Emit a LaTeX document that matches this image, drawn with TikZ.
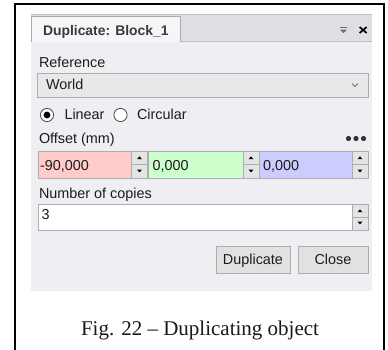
\documentclass[tikz,border=0pt]{standalone}
\usepackage{fontspec}
\setmainfont{Liberation Sans}
\newfontfamily\capfont[Ligatures=TeX]{Liberation Serif}
\definecolor{bodybg}{RGB}{238,238,243}
\definecolor{stripbg}{RGB}{221,223,229}
\definecolor{stripln}{RGB}{190,192,198}
\definecolor{tabbg}{RGB}{246,246,248}
\definecolor{tabln}{RGB}{170,170,172}
\definecolor{ctlln}{RGB}{173,173,173}
\definecolor{combobg}{RGB}{232,232,232}
\definecolor{spinbg}{RGB}{228,228,228}
\definecolor{btnbg}{RGB}{225,225,225}
\definecolor{txt}{RGB}{28,28,28}
\definecolor{titletxt}{RGB}{58,58,58}
\definecolor{iconc}{RGB}{110,110,110}
\definecolor{xred}{RGB}{255,204,204}
\definecolor{ygreen}{RGB}{204,255,204}
\definecolor{zblue}{RGB}{204,204,255}
\begin{document}
\begin{tikzpicture}[x=1pt,y=-1pt,
  every node/.style={inner sep=0pt,outer sep=0pt},
  ui/.style={font=\fontsize{14.4}{16}\selectfont,text=txt,anchor=base west},
  field/.style={draw=ctlln,line width=0.8pt},
  spinbox/.style={draw=ctlln,fill=spinbg,line width=0.8pt},
  btn/.style={draw=ctlln,fill=btnbg,line width=0.9pt}]
\useasboundingbox (0,0) rectangle (388,350);
\fill[white] (0,0) rectangle (388,350);

% outer frame
\draw[line width=1.1pt,black] (15,350) -- (15,4) -- (384,4) -- (384,350);

% dock panel body and tab strip
\fill[bodybg] (31,14) rectangle (372,291);
\fill[stripbg] (31,14) rectangle (372,42);
\draw[stripln,line width=0.8pt] (31,14.4) -- (372,14.4);
\draw[stripln,line width=0.8pt] (180.5,41.6) -- (372,41.6);
\path[fill=tabbg,draw=tabln,line width=0.8pt] (31.5,42) -- (31.5,16.4) -- (180.5,16.4) -- (180.5,42);
\fill[bodybg] (32,42) rectangle (180,46);
\node[anchor=base west,font=\bfseries\fontsize{13.9}{16}\selectfont,text=titletxt] (title) at (43,35.5) {Duplicate: Block\_1};

% pin and close icons
\draw[iconc,line width=1pt] (340,27.6) -- (347,27.6);
\fill[iconc] (340,29.6) -- (347,29.6) -- (343.5,33) -- cycle;
\draw[black,line width=1.7pt] (359.6,27) -- (366.6,33) (359.6,33) -- (366.6,27);

% reference combo
\node[ui] (reflbl) at (39,68) {Reference};
\draw[field,fill=combobg] (37.5,73.5) rectangle (368,97);
\node[ui] (world) at (46,90) {World};
\draw[iconc,line width=0.9pt] (352,83.6) -- (355,86.6) -- (358,83.6);

% radio buttons
\draw[draw=black!70,fill=white,line width=0.8pt] (47,115) circle (6.6);
\fill[black] (47,115) circle (3.4);
\node[ui] (linear) at (64.5,120) {Linear};
\draw[draw=black!70,fill=white,line width=0.8pt] (120.5,115) circle (6.6);
\node[ui] (circular) at (137,120) {Circular};

% offset row
\node[ui] (offlbl) at (39,143) {Offset (mm)};
\foreach \cx in {348.5,356,363.5} \fill[black!80] (\cx,138.5) circle (2.6);

\draw[field,fill=xred] (38,151) rectangle (131.5,178);
\draw[field,fill=ygreen] (148,151) rectangle (243,178);
\draw[field,fill=zblue] (259,151) rectangle (352,178);
\node[ui] (xval) at (40,170) {-90,000};
\node[ui] (yval) at (152.5,170) {0,000};
\node[ui] (zval) at (263,170) {0,000};

% spin buttons: left edge, top, bottom
\foreach \sx/\ty/\by in {131.5/151/178, 243/151/178, 352/151/178, 352/204/230}{
  \pgfmathsetmacro{\my}{(\ty+\by)/2}
  \draw[spinbox] (\sx,\ty) rectangle (\sx+16,\my);
  \draw[spinbox] (\sx,\my) rectangle (\sx+16,\by);
  \fill[black] (\sx+5.5,\ty+8.2) -- (\sx+10.5,\ty+8.2) -- (\sx+8,\ty+5.4) -- cycle;
  \fill[black] (\sx+5.5,\by-8.4) -- (\sx+10.5,\by-8.4) -- (\sx+8,\by-5.6) -- cycle;
}

% number of copies
\node[ui] (copylbl) at (39,198) {Number of copies};
\draw[field,fill=white] (38,204) rectangle (352,230);
\node[ui] (copyval) at (41.5,219.5) {3};

% buttons
\draw[btn] (216,246) rectangle (290,273);
\draw[btn] (298,246) rectangle (368,273);
\node[ui,anchor=base] (dupbtn) at (253,264) {Duplicate};
\node[ui,anchor=base] (closebtn) at (333,264) {Close};

% caption
\node[anchor=base,font=\capfont\fontsize{21}{24}\selectfont,text=black!90] (cap) at (200,335) {Fig. 22 – Duplicating object};
\end{tikzpicture}
\end{document}
